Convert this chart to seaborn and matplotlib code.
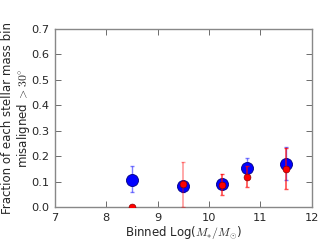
import matplotlib
matplotlib.use("Agg")
import matplotlib.pyplot as plt
import seaborn as sns
import numpy as np
import pandas as pd

mass_bins = [8.5, 9.5, 10.25, 10.75, 11.5]
blue_frac = [0.107, 0.083, 0.091, 0.154, 0.171]
blue_lo = [0.058, 0.060, 0.075, 0.117, 0.107]
blue_hi = [0.160, 0.100, 0.105, 0.193, 0.235]
red_frac = [0.0, 0.091, 0.087, 0.117, 0.149]
red_lo = [0.0, 0.0, 0.047, 0.077, 0.070]
red_hi = [0.0, 0.176, 0.128, 0.160, 0.233]

sns.set_theme(style="ticks")
plt.rcParams['font.family'] = ['DejaVu Sans']
plt.rcParams['mathtext.fontset'] = 'cm'

fig = plt.figure(figsize=(3.27, 2.45), dpi=100)
ax = fig.add_axes([0.168, 0.155, 0.785, 0.727])

df_b = pd.DataFrame({"x": mass_bins, "y": blue_frac})
df_r = pd.DataFrame({"x": mass_bins, "y": red_frac})

bf = np.array(blue_frac); rf = np.array(red_frac)
ax.errorbar(mass_bins, bf, yerr=[bf - np.array(blue_lo), np.array(blue_hi) - bf],
            fmt='none', ecolor='blue', alpha=0.5, capsize=1.5, elinewidth=1, zorder=2)
sns.scatterplot(data=df_b, x="x", y="y", ax=ax, color='blue', s=75,
                edgecolor='navy', linewidth=0.6, zorder=3)
red_alpha = [0.7, 0.4, 0.7, 0.7, 0.7]
for xi, yi, lo, hi, a in zip(mass_bins, red_frac, red_lo, red_hi, red_alpha):
    ax.errorbar([xi], [yi], yerr=[[yi - lo], [hi - yi]],
                fmt='none', ecolor='red', alpha=a, capsize=1.5, elinewidth=1.2, zorder=4)
sns.scatterplot(data=df_r, x="x", y="y", ax=ax, color='red', s=24,
                edgecolor='darkred', linewidth=0.5, zorder=5)

ax.set_xlim(7, 12)
ax.set_ylim(0, 0.7)
ax.set_xticks([7, 8, 9, 10, 11, 12])
ax.set_yticks([0.0, 0.1, 0.2, 0.3, 0.4, 0.5, 0.6, 0.7])
ax.set_yticklabels(["0.0", "0.1", "0.2", "0.3", "0.4", "0.5", "0.6", "0.7"])
ax.tick_params(direction='in', top=True, right=True, labelsize=8.2, length=4, width=0.6, color='#555555', pad=4)
for s in ax.spines.values():
    s.set_color('#888888'); s.set_linewidth(1.0)
ax.set_xlabel(r"Binned Log($M_{*}/M_{\odot}$)", fontsize=8.5, labelpad=1)
ax.set_ylabel("Fraction of each stellar mass bin\nmisaligned $>30^{\\circ}$", fontsize=8.5,
              linespacing=1.1)
ax.yaxis.set_label_coords(-0.09, 0.5)

fig.savefig("out.png", dpi=100)
